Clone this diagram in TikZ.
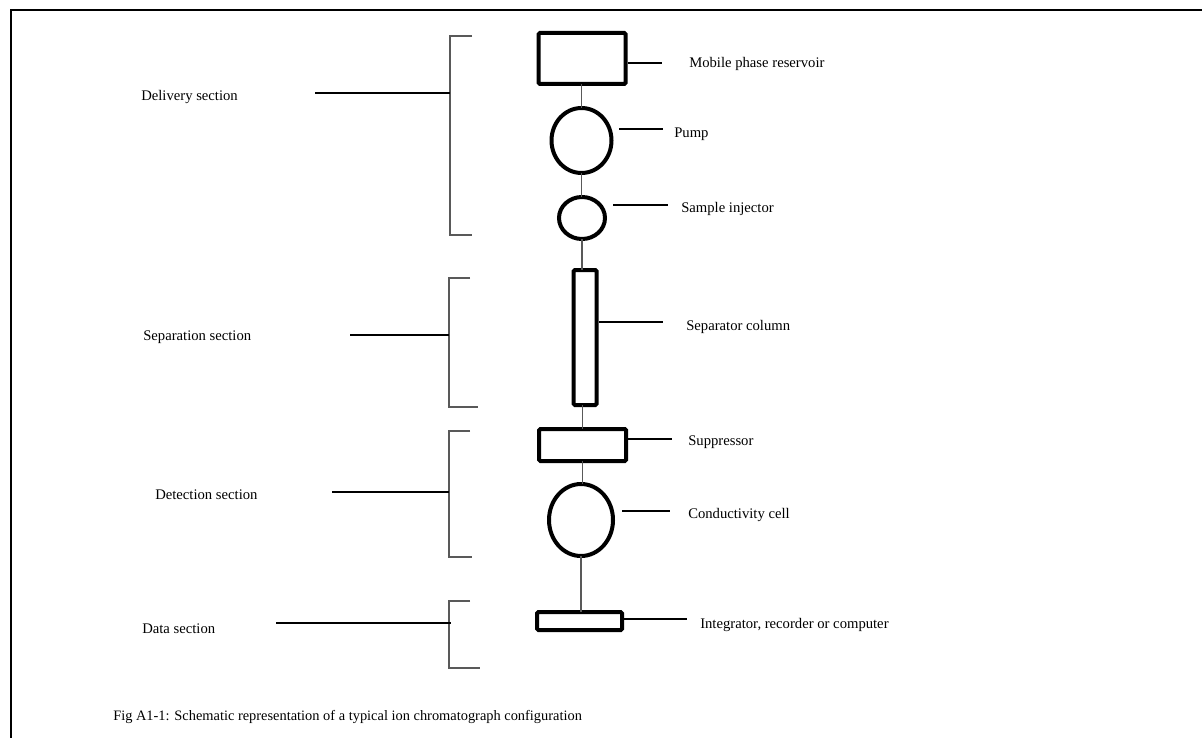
\documentclass[tikz,border=0pt]{standalone}
\usepackage{fontspec}
\setmainfont{Liberation Serif}
\usetikzlibrary{shapes.geometric}
\begin{document}
\begin{tikzpicture}[x=0.75pt,y=-0.75pt,
  part/.style={draw,line width=3pt,inner sep=0pt,outer sep=0pt},
  box/.style={part,rectangle,rounded corners=1pt},
  oval/.style={part,ellipse},
  flow/.style={line width=0.8pt,black!65},
  lead/.style={line width=0.8pt,black},
  brk/.style={line width=0.8pt,black!65},
  lbl/.style={anchor=west,inner sep=0pt,font=\fontsize{11}{13}\selectfont},
  captext/.style={anchor=west,inner sep=0pt,font=\fontsize{10.8}{13}\selectfont},
]
\useasboundingbox (0,0) rectangle (1202,738);
\draw[line width=1pt] (11,738) -- (11,10) -- (1202,10);

% components
\node[box,minimum width=65.25pt,minimum height=38.25pt] (res) at (582,58.5) {};
\node[oval,minimum width=45pt,minimum height=48.75pt] (pump) at (581.5,140.5) {};
\node[oval,minimum width=34.5pt,minimum height=31.5pt] (inj) at (582,218) {};
\node[box,minimum width=17.25pt,minimum height=101.25pt] (col) at (585,337.5) {};
\node[box,minimum width=65.25pt,minimum height=24pt] (sup) at (582.5,445) {};
\node[oval,minimum width=48pt,minimum height=54pt] (cell) at (581,520) {};
\node[box,minimum width=63.75pt,minimum height=13.5pt] (int) at (579.5,621) {};

% flow connectors
\draw[flow] (pump.north |- res.south) -- (pump.north);
\draw[flow] (pump.south) -- (pump.south |- inj.north);
\draw[flow] (inj.south) -- (inj.south |- col.north);
\draw[flow] (col.south -| sup.north) -- (sup.north);
\draw[flow] (sup.south) -- (sup.south |- cell.north);
\draw[flow] (cell.south) -- (cell.south |- int.north);

% right labels
\node[lbl] (tres) at (689,63.5) {Mobile phase reservoir};
\node[lbl] (tpump) at (674,134.5) {Pump};
\node[lbl] (tinj) at (681,208.5) {Sample injector};
\node[lbl] (tcol) at (686,326.5) {Separator column};
\node[lbl] (tsup) at (688,442.5) {Suppressor};
\node[lbl] (tcell) at (688,514.5) {Conductivity cell};
\node[lbl] (tint) at (700,624.5) {Integrator, recorder or computer};

\coordinate (ra) at (628,63);  \coordinate (rb) at (662,63);
\coordinate (pa) at (619,129); \coordinate (pb) at (663,129);
\coordinate (ia) at (613,205); \coordinate (ib) at (668,205);
\coordinate (ca) at (599,322); \coordinate (cb) at (663,322);
\coordinate (sa) at (628,439); \coordinate (sb) at (672,439);
\coordinate (ea) at (622,511); \coordinate (eb) at (670,511);
\coordinate (na) at (624,619); \coordinate (nb) at (687,619);
\draw[lead] (ra) -- (rb);
\draw[lead] (pa) -- (pb);
\draw[lead] (ia) -- (ib);
\draw[lead] (ca) -- (cb);
\draw[lead] (sa) -- (sb);
\draw[lead] (ea) -- (eb);
\draw[lead] (na) -- (nb);

% left sections
\node[lbl] (sdel) at (141,96.5) {Delivery section};
\node[lbl] (ssep) at (143,337.5) {Separation section};
\node[lbl] (sdet) at (155,494.5) {Detection section};
\node[lbl] (sdat) at (142,628.5) {Data section};

\draw[brk] (472,36) -- (450,36) -- (450,235) -- (472,235);
\coordinate (dA) at (315,93); \coordinate (dB) at (450,93);
\draw[lead] (dA) -- (dB);

\draw[brk] (470,278) -- (449,278) -- (449,407) -- (478,407);
\coordinate (pA) at (350,335); \coordinate (pB) at (449,335);
\draw[lead] (pA) -- (pB);

\draw[brk] (470,431) -- (449,431) -- (449,557) -- (472,557);
\coordinate (tA) at (332,492); \coordinate (tB) at (449,492);
\draw[lead] (tA) -- (tB);

\draw[brk] (470,601) -- (449,601) -- (449,668) -- (480,668);
\coordinate (aA) at (276,623); \coordinate (aB) at (451,623);
\draw[lead] (aA) -- (aB);

\node[captext] (caption) at (113,717) {Fig A1-1: Schematic representation of a typical ion chromatograph configuration};
\end{tikzpicture}
\end{document}
